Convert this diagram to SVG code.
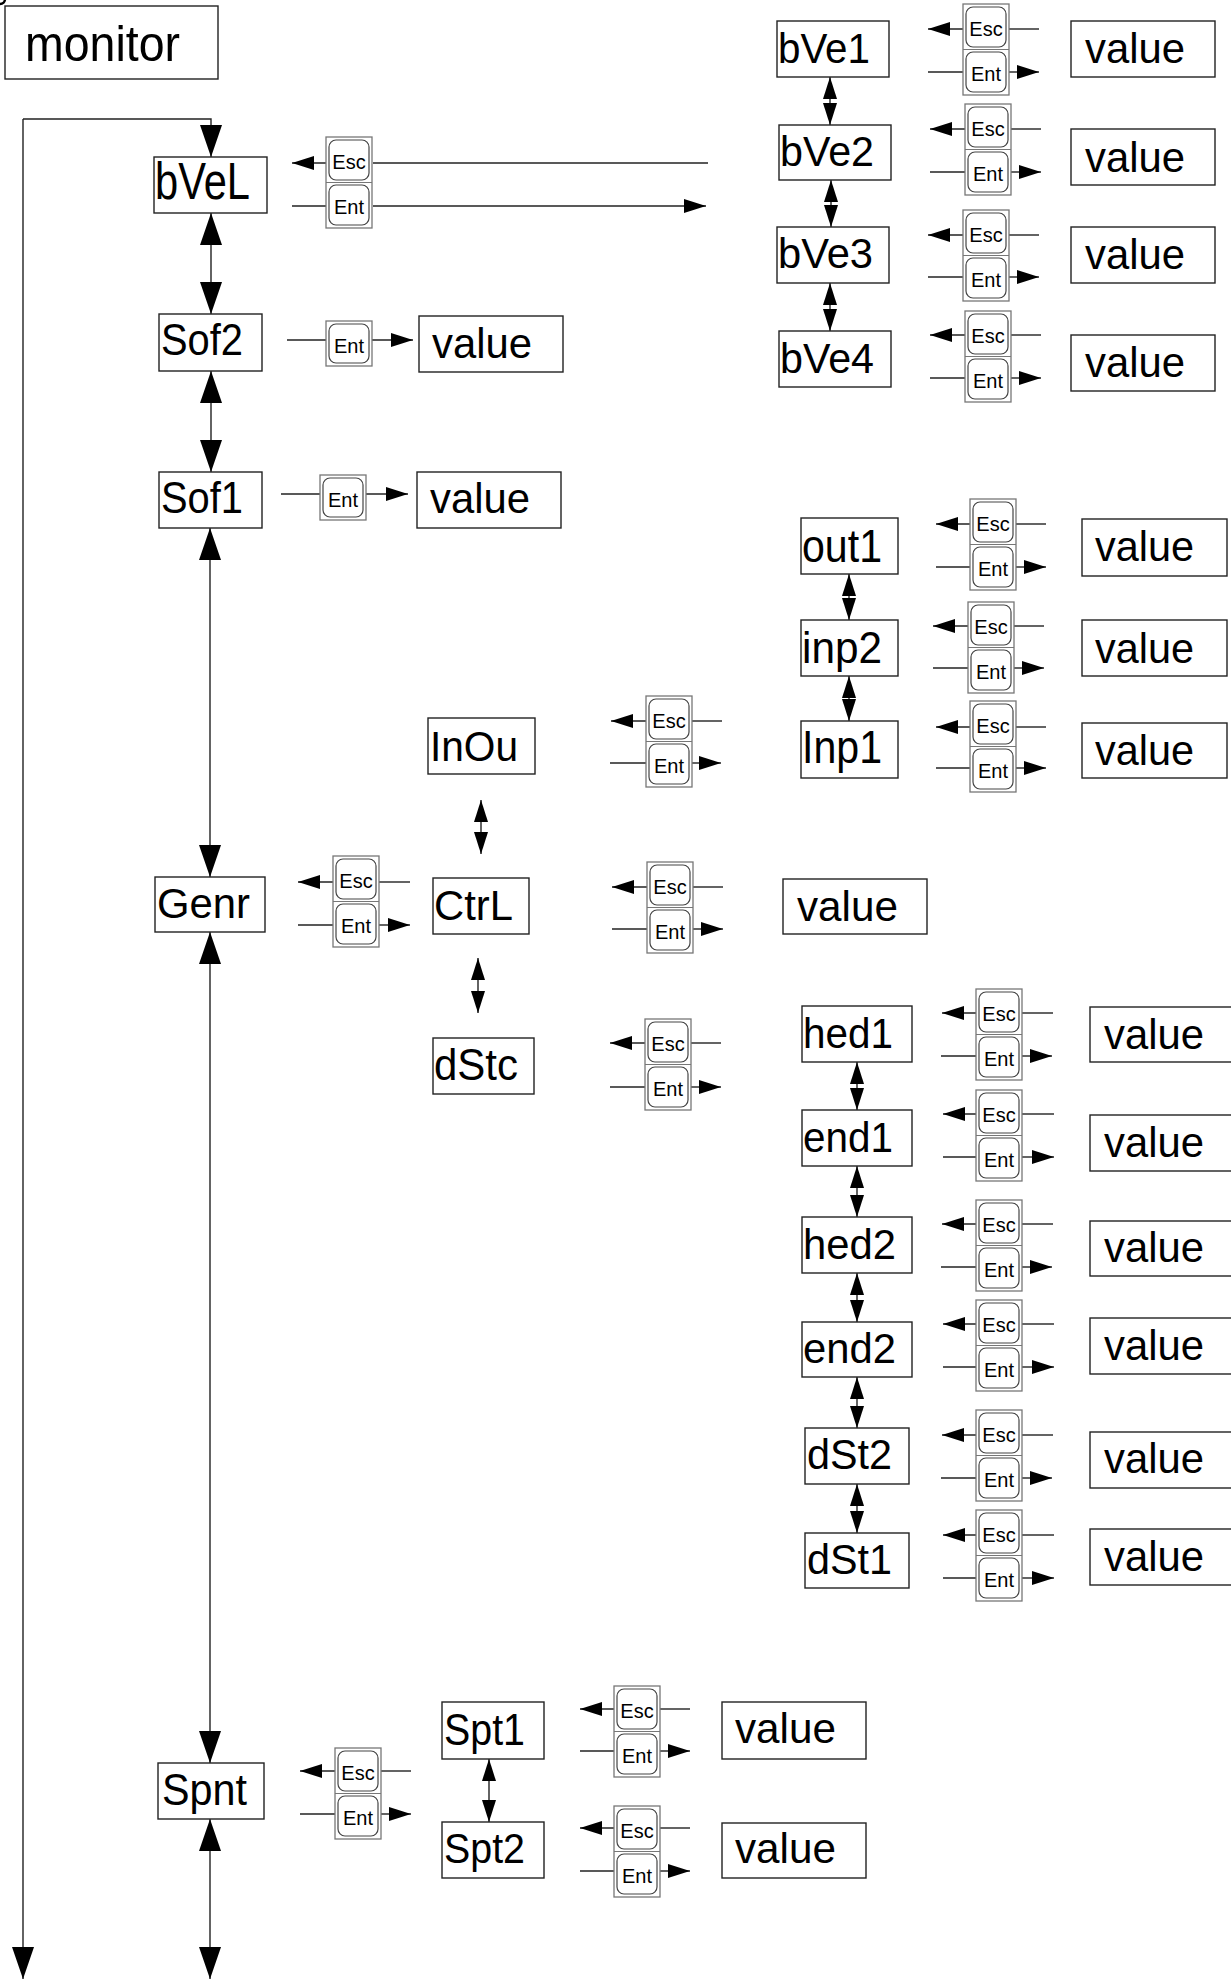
<svg xmlns="http://www.w3.org/2000/svg" width="1231" height="1979" viewBox="0 0 1231 1979">
<style>
.box{fill:#fff;stroke:#222;stroke-width:1.4}
.lbl{font-family:"Liberation Sans",Arial,sans-serif;fill:#000}
.bt{font-family:"Liberation Sans",Arial,sans-serif;font-size:20px;fill:#000;text-anchor:middle}
.bo{fill:#fff;stroke:#777;stroke-width:1.3}
.bi{fill:none;stroke:#444;stroke-width:1.2}
.ln{fill:none;stroke:#222;stroke-width:1.4}
.sa{marker-end:url(#ah)}
.da{marker-start:url(#ah);marker-end:url(#ah)}
.ba{marker-end:url(#bh)}
.bd{marker-start:url(#bh);marker-end:url(#bh)}
</style>
<defs>
<marker id="ah" markerUnits="userSpaceOnUse" markerWidth="22" markerHeight="14" refX="22" refY="7" orient="auto-start-reverse"><path d="M0,0 L22,7 L0,14 z" fill="#000"/></marker>
<marker id="bh" markerUnits="userSpaceOnUse" markerWidth="32" markerHeight="22" refX="32" refY="11" orient="auto-start-reverse"><path d="M0,0 L32,11 L0,22 z" fill="#000"/></marker>
<g id="btnL">
<rect class="bo" x="0" y="0" width="46" height="91"/>
<line x1="0" y1="45.5" x2="46" y2="45.5" stroke="#777" stroke-width="1.2"/>
<rect class="bi" x="3" y="3" width="40" height="40" rx="7"/>
<rect class="bi" x="3" y="48" width="40" height="40" rx="7"/>
<text class="bt" x="23" y="32">Esc</text>
<text class="bt" x="23" y="77">Ent</text>
</g>
<g id="btnE">
<rect class="bo" x="0" y="0" width="46" height="45"/>
<rect class="bi" x="3" y="3" width="40" height="39" rx="7"/>
<text class="bt" x="23" y="32">Ent</text>
</g>
</defs>
<rect width="1231" height="1979" fill="#fff"/>
<circle cx="0" cy="-1" r="5" fill="none" stroke="#000" stroke-width="2.5"/>

<g id="connectors">
<path class="ln ba" d="M23,119 L211,119 L211,157"/>
<path class="ln ba" d="M23,119 L23,1979"/>
<path class="ln bd" d="M211,213 L211,314"/>
<path class="ln bd" d="M211,371 L211,472"/>
<path class="ln bd" d="M210,528 L210,877"/>
<path class="ln bd" d="M210,932 L210,1763"/>
<path class="ln bd" d="M210,1819 L210,1979"/>
<path class="ln da" d="M830,77 L830,125"/>
<path class="ln da" d="M831,180 L831,227"/>
<path class="ln da" d="M830,283 L830,331"/>
<path class="ln da" d="M481,800 L481,854"/>
<path class="ln da" d="M478,958 L478,1013"/>
<path class="ln da" d="M849,574 L849,620"/>
<path class="ln da" d="M849,676 L849,721"/>
<path class="ln da" d="M857,1062 L857,1110"/>
<path class="ln da" d="M857,1166 L857,1217"/>
<path class="ln da" d="M857,1273 L857,1322"/>
<path class="ln da" d="M857,1377 L857,1428"/>
<path class="ln da" d="M857,1484 L857,1533"/>
<path class="ln da" d="M489,1759 L489,1822"/>

<path class="ln" d="M373,163 L708,163"/>
<path class="ln sa" d="M326,163 L292,163"/>
<path class="ln" d="M292,206 L326,206"/>
<path class="ln sa" d="M373,206 L706,206"/>
<path class="ln" d="M287,340 L326,340"/>
<path class="ln sa" d="M372,340 L413,340"/>
<path class="ln" d="M281,494 L320,494"/>
<path class="ln sa" d="M366,494 L408,494"/>

<g id="k-bVe1"><path class="ln" d="M1009,29 L1039,29"/><path class="ln sa" d="M963,29 L928,29"/><path class="ln" d="M928,72 L963,72"/><path class="ln sa" d="M1009,72 L1039,72"/></g>
<g id="k-bVe2"><path class="ln" d="M1011,129 L1041,129"/><path class="ln sa" d="M965,129 L930,129"/><path class="ln" d="M930,172 L965,172"/><path class="ln sa" d="M1011,172 L1041,172"/></g>
<g id="k-bVe3"><path class="ln" d="M1009,235 L1039,235"/><path class="ln sa" d="M963,235 L928,235"/><path class="ln" d="M928,277 L963,277"/><path class="ln sa" d="M1009,277 L1039,277"/></g>
<g id="k-bVe4"><path class="ln" d="M1011,335 L1041,335"/><path class="ln sa" d="M965,335 L930,335"/><path class="ln" d="M930,378 L965,378"/><path class="ln sa" d="M1011,378 L1041,378"/></g>
<g id="k-out1"><path class="ln" d="M1016,524 L1046,524"/><path class="ln sa" d="M970,524 L936,524"/><path class="ln" d="M936,567 L970,567"/><path class="ln sa" d="M1016,567 L1046,567"/></g>
<g id="k-inp2"><path class="ln" d="M1014,626 L1044,626"/><path class="ln sa" d="M968,626 L933,626"/><path class="ln" d="M933,668 L968,668"/><path class="ln sa" d="M1014,668 L1044,668"/></g>
<g id="k-Inp1"><path class="ln" d="M1016,727 L1046,727"/><path class="ln sa" d="M970,727 L936,727"/><path class="ln" d="M936,768 L970,768"/><path class="ln sa" d="M1016,768 L1046,768"/></g>
<g id="k-InOu"><path class="ln" d="M692,721 L722,721"/><path class="ln sa" d="M646,721 L611,721"/><path class="ln" d="M610,763 L646,763"/><path class="ln sa" d="M692,763 L721,763"/></g>
<g id="k-Genr"><path class="ln" d="M379,882 L410,882"/><path class="ln sa" d="M333,882 L298,882"/><path class="ln" d="M298,925 L333,925"/><path class="ln sa" d="M379,925 L410,925"/></g>
<g id="k-CtrL"><path class="ln" d="M693,887 L723,887"/><path class="ln sa" d="M647,887 L612,887"/><path class="ln" d="M612,929 L647,929"/><path class="ln sa" d="M693,929 L723,929"/></g>
<g id="k-dStc"><path class="ln" d="M691,1043 L721,1043"/><path class="ln sa" d="M645,1043 L610,1043"/><path class="ln" d="M610,1087 L645,1087"/><path class="ln sa" d="M691,1087 L721,1087"/></g>
<g id="k-Spnt"><path class="ln" d="M381,1771 L411,1771"/><path class="ln sa" d="M335,1771 L300,1771"/><path class="ln" d="M300,1814 L335,1814"/><path class="ln sa" d="M381,1814 L411,1814"/></g>
<g id="k-Spt1"><path class="ln" d="M660,1709 L690,1709"/><path class="ln sa" d="M614,1709 L580,1709"/><path class="ln" d="M580,1751 L614,1751"/><path class="ln sa" d="M660,1751 L690,1751"/></g>
<g id="k-Spt2"><path class="ln" d="M660,1828 L690,1828"/><path class="ln sa" d="M614,1828 L580,1828"/><path class="ln" d="M580,1871 L614,1871"/><path class="ln sa" d="M660,1871 L690,1871"/></g>
<g id="k-hed1"><path class="ln" d="M1022,1013 L1053,1013"/><path class="ln sa" d="M976,1013 L942,1013"/><path class="ln" d="M941,1056 L976,1056"/><path class="ln sa" d="M1022,1056 L1052,1056"/></g>
<g id="k-end1"><path class="ln" d="M1022,1114 L1054,1114"/><path class="ln sa" d="M976,1114 L943,1114"/><path class="ln" d="M943,1157 L976,1157"/><path class="ln sa" d="M1022,1157 L1054,1157"/></g>
<g id="k-hed2"><path class="ln" d="M1022,1224 L1053,1224"/><path class="ln sa" d="M976,1224 L942,1224"/><path class="ln" d="M941,1267 L976,1267"/><path class="ln sa" d="M1022,1267 L1052,1267"/></g>
<g id="k-end2"><path class="ln" d="M1022,1324 L1054,1324"/><path class="ln sa" d="M976,1324 L943,1324"/><path class="ln" d="M943,1367 L976,1367"/><path class="ln sa" d="M1022,1367 L1054,1367"/></g>
<g id="k-dSt2"><path class="ln" d="M1022,1435 L1053,1435"/><path class="ln sa" d="M976,1435 L942,1435"/><path class="ln" d="M941,1478 L976,1478"/><path class="ln sa" d="M1022,1478 L1052,1478"/></g>
<g id="k-dSt1"><path class="ln" d="M1022,1535 L1054,1535"/><path class="ln sa" d="M976,1535 L943,1535"/><path class="ln" d="M943,1578 L976,1578"/><path class="ln sa" d="M1022,1578 L1054,1578"/></g>
</g>

<g id="keys">
<use href="#btnL" x="326" y="137"/>
<use href="#btnE" x="326" y="321"/>
<use href="#btnE" x="320" y="475"/>
<use href="#btnL" x="963" y="4"/>
<use href="#btnL" x="965" y="104"/>
<use href="#btnL" x="963" y="210"/>
<use href="#btnL" x="965" y="311"/>
<use href="#btnL" x="970" y="499"/>
<use href="#btnL" x="968" y="602"/>
<use href="#btnL" x="970" y="701"/>
<use href="#btnL" x="646" y="696"/>
<use href="#btnL" x="333" y="856"/>
<use href="#btnL" x="647" y="862"/>
<use href="#btnL" x="645" y="1019"/>
<use href="#btnL" x="335" y="1748"/>
<use href="#btnL" x="614" y="1686"/>
<use href="#btnL" x="614" y="1806"/>
<use href="#btnL" x="976" y="989"/>
<use href="#btnL" x="976" y="1090"/>
<use href="#btnL" x="976" y="1200"/>
<use href="#btnL" x="976" y="1300"/>
<use href="#btnL" x="976" y="1410"/>
<use href="#btnL" x="976" y="1510"/>
</g>

<g id="n-monitor"><rect class="box" x="5" y="6" width="213" height="73"/><text class="lbl" x="25" y="61" font-size="50" textLength="155" lengthAdjust="spacingAndGlyphs">monitor</text></g>
<g id="n-bVeL"><rect class="box" x="154" y="157" width="113" height="56"/><text class="lbl" x="155" y="199" font-size="52" textLength="95" lengthAdjust="spacingAndGlyphs">bVeL</text></g>
<g id="n-Sof2"><rect class="box" x="159" y="314" width="103" height="57"/><text class="lbl" x="161" y="355" font-size="45" textLength="82" lengthAdjust="spacingAndGlyphs">Sof2</text></g>
<g id="n-Sof1"><rect class="box" x="159" y="472" width="103" height="56"/><text class="lbl" x="161" y="513" font-size="45" textLength="82" lengthAdjust="spacingAndGlyphs">Sof1</text></g>
<g id="n-Genr"><rect class="box" x="155" y="877" width="110" height="55"/><text class="lbl" x="157" y="918" font-size="42" textLength="93" lengthAdjust="spacingAndGlyphs">Genr</text></g>
<g id="n-Spnt"><rect class="box" x="158" y="1763" width="106" height="56"/><text class="lbl" x="162" y="1805" font-size="45" textLength="85" lengthAdjust="spacingAndGlyphs">Spnt</text></g>

<g id="n-bVe1"><rect class="box" x="777" y="21" width="112" height="56"/><text class="lbl" x="778" y="63" font-size="42" textLength="92" lengthAdjust="spacingAndGlyphs">bVe1</text></g>
<g id="n-bVe2"><rect class="box" x="779" y="125" width="112" height="55"/><text class="lbl" x="780" y="166" font-size="42" textLength="94" lengthAdjust="spacingAndGlyphs">bVe2</text></g>
<g id="n-bVe3"><rect class="box" x="777" y="227" width="112" height="56"/><text class="lbl" x="778" y="268" font-size="42" textLength="95" lengthAdjust="spacingAndGlyphs">bVe3</text></g>
<g id="n-bVe4"><rect class="box" x="779" y="331" width="112" height="56"/><text class="lbl" x="780" y="373" font-size="42" textLength="94" lengthAdjust="spacingAndGlyphs">bVe4</text></g>
<g id="v-bVe1"><rect class="box" x="1071" y="21" width="144" height="56"/><text class="lbl" x="1085" y="63" font-size="42" textLength="100" lengthAdjust="spacingAndGlyphs">value</text></g>
<g id="v-bVe2"><rect class="box" x="1071" y="129" width="144" height="56"/><text class="lbl" x="1085" y="172" font-size="42" textLength="100" lengthAdjust="spacingAndGlyphs">value</text></g>
<g id="v-bVe3"><rect class="box" x="1071" y="227" width="144" height="56"/><text class="lbl" x="1085" y="269" font-size="42" textLength="100" lengthAdjust="spacingAndGlyphs">value</text></g>
<g id="v-bVe4"><rect class="box" x="1071" y="335" width="144" height="56"/><text class="lbl" x="1085" y="377" font-size="42" textLength="100" lengthAdjust="spacingAndGlyphs">value</text></g>

<g id="v-Sof2"><rect class="box" x="419" y="316" width="144" height="56"/><text class="lbl" x="432" y="358" font-size="42" textLength="100" lengthAdjust="spacingAndGlyphs">value</text></g>
<g id="v-Sof1"><rect class="box" x="417" y="472" width="144" height="56"/><text class="lbl" x="430" y="513" font-size="42" textLength="100" lengthAdjust="spacingAndGlyphs">value</text></g>

<g id="n-InOu"><rect class="box" x="428" y="718" width="107" height="56"/><text class="lbl" x="430" y="761" font-size="43" textLength="88" lengthAdjust="spacingAndGlyphs">InOu</text></g>
<g id="n-CtrL"><rect class="box" x="433" y="878" width="96" height="56"/><text class="lbl" x="434" y="920" font-size="42" textLength="79" lengthAdjust="spacingAndGlyphs">CtrL</text></g>
<g id="n-dStc"><rect class="box" x="433" y="1038" width="101" height="56"/><text class="lbl" x="434" y="1080" font-size="44" textLength="84" lengthAdjust="spacingAndGlyphs">dStc</text></g>
<g id="v-CtrL"><rect class="box" x="783" y="879" width="144" height="55"/><text class="lbl" x="797" y="921" font-size="42" textLength="101" lengthAdjust="spacingAndGlyphs">value</text></g>

<g id="n-out1"><rect class="box" x="801" y="518" width="97" height="56"/><text class="lbl" x="802" y="562" font-size="46" textLength="80" lengthAdjust="spacingAndGlyphs">out1</text></g>
<g id="n-inp2"><rect class="box" x="801" y="620" width="97" height="56"/><text class="lbl" x="802" y="663" font-size="44" textLength="80" lengthAdjust="spacingAndGlyphs">inp2</text></g>
<g id="n-Inp1"><rect class="box" x="801" y="721" width="97" height="57"/><text class="lbl" x="802" y="763" font-size="46" textLength="80" lengthAdjust="spacingAndGlyphs">Inp1</text></g>
<g id="v-out1"><rect class="box" x="1082" y="519" width="145" height="57"/><text class="lbl" x="1095" y="561" font-size="42" textLength="99" lengthAdjust="spacingAndGlyphs">value</text></g>
<g id="v-inp2"><rect class="box" x="1082" y="620" width="145" height="56"/><text class="lbl" x="1095" y="663" font-size="42" textLength="99" lengthAdjust="spacingAndGlyphs">value</text></g>
<g id="v-Inp1"><rect class="box" x="1082" y="723" width="145" height="55"/><text class="lbl" x="1095" y="765" font-size="42" textLength="99" lengthAdjust="spacingAndGlyphs">value</text></g>

<g id="n-hed1"><rect class="box" x="802" y="1006" width="110" height="56"/><text class="lbl" x="803" y="1048" font-size="43" textLength="90" lengthAdjust="spacingAndGlyphs">hed1</text></g>
<g id="n-end1"><rect class="box" x="802" y="1110" width="110" height="56"/><text class="lbl" x="803" y="1152" font-size="43" textLength="90" lengthAdjust="spacingAndGlyphs">end1</text></g>
<g id="n-hed2"><rect class="box" x="802" y="1217" width="110" height="56"/><text class="lbl" x="803" y="1259" font-size="43" textLength="93" lengthAdjust="spacingAndGlyphs">hed2</text></g>
<g id="n-end2"><rect class="box" x="802" y="1322" width="110" height="55"/><text class="lbl" x="803" y="1363" font-size="43" textLength="93" lengthAdjust="spacingAndGlyphs">end2</text></g>
<g id="n-dSt2"><rect class="box" x="805" y="1428" width="104" height="56"/><text class="lbl" x="807" y="1469" font-size="43" textLength="85" lengthAdjust="spacingAndGlyphs">dSt2</text></g>
<g id="n-dSt1"><rect class="box" x="805" y="1533" width="104" height="55"/><text class="lbl" x="807" y="1574" font-size="43" textLength="85" lengthAdjust="spacingAndGlyphs">dSt1</text></g>
<g id="v-hed1"><rect class="box" x="1090" y="1007" width="150" height="55"/><text class="lbl" x="1104" y="1049" font-size="42" textLength="100" lengthAdjust="spacingAndGlyphs">value</text></g>
<g id="v-end1"><rect class="box" x="1090" y="1115" width="150" height="56"/><text class="lbl" x="1104" y="1157" font-size="42" textLength="100" lengthAdjust="spacingAndGlyphs">value</text></g>
<g id="v-hed2"><rect class="box" x="1090" y="1221" width="150" height="55"/><text class="lbl" x="1104" y="1262" font-size="42" textLength="100" lengthAdjust="spacingAndGlyphs">value</text></g>
<g id="v-end2"><rect class="box" x="1090" y="1318" width="150" height="56"/><text class="lbl" x="1104" y="1360" font-size="42" textLength="100" lengthAdjust="spacingAndGlyphs">value</text></g>
<g id="v-dSt2"><rect class="box" x="1090" y="1432" width="150" height="56"/><text class="lbl" x="1104" y="1473" font-size="42" textLength="100" lengthAdjust="spacingAndGlyphs">value</text></g>
<g id="v-dSt1"><rect class="box" x="1090" y="1529" width="150" height="56"/><text class="lbl" x="1104" y="1571" font-size="42" textLength="100" lengthAdjust="spacingAndGlyphs">value</text></g>

<g id="n-Spt1"><rect class="box" x="442" y="1702" width="102" height="57"/><text class="lbl" x="444" y="1745" font-size="45" textLength="81" lengthAdjust="spacingAndGlyphs">Spt1</text></g>
<g id="n-Spt2"><rect class="box" x="442" y="1822" width="102" height="56"/><text class="lbl" x="444" y="1863" font-size="43" textLength="81" lengthAdjust="spacingAndGlyphs">Spt2</text></g>
<g id="v-Spt1"><rect class="box" x="722" y="1702" width="144" height="57"/><text class="lbl" x="735" y="1743" font-size="42" textLength="101" lengthAdjust="spacingAndGlyphs">value</text></g>
<g id="v-Spt2"><rect class="box" x="722" y="1823" width="144" height="55"/><text class="lbl" x="735" y="1863" font-size="42" textLength="101" lengthAdjust="spacingAndGlyphs">value</text></g>
</svg>
